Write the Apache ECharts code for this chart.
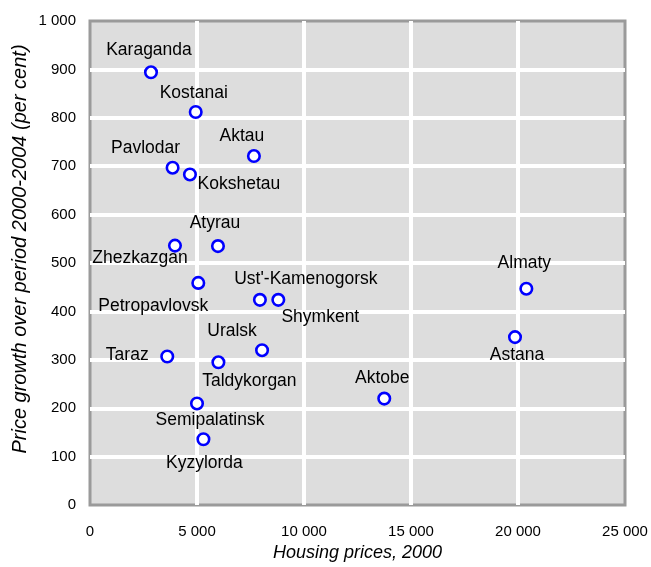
<!DOCTYPE html>
<html>
<head>
<meta charset="utf-8">
<script src="https://cdn.jsdelivr.net/npm/echarts@6/dist/echarts.min.js"></script>
<style>
html,body{margin:0;padding:0;background:#fff;}
#chart{width:651px;height:567px;}
</style>
</head>
<body>
<div id="chart"></div>
<script>
// ---- data ----
var cities = ["Karaganda","Kostanai","Aktau","Pavlodar","Kokshetau","Zhezkazgan","Atyrau","Petropavlovsk","Ust'-Kamenogorsk","Shymkent","Uralsk","Taraz","Taldykorgan","Semipalatinsk","Kyzylorda","Aktobe","Almaty","Astana"];
var housingPrices = [2850,4940,7660,3860,4670,3970,5980,5060,7940,8800,8040,3610,6000,5000,5300,13750,20390,19860];
var priceGrowth = [894,812,721,697,683,536,535,459,424,424,320,307,295,210,136,220,447,347];
var xTicks = [0,5000,10000,15000,20000,25000];
var yTicks = [0,100,200,300,400,500,600,700,800,900,1000];
var xTitle = "Housing prices, 2000";
var yTitle = "Price growth over period 2000-2004 (per cent)";

// ---- label placement (styling) ----
var labelOffsets = {
  "Karaganda":[-2,-22], "Kostanai":[-2,-19], "Aktau":[-12,-20], "Pavlodar":[-27,-20],
  "Kokshetau":[49,10], "Zhezkazgan":[-35,13], "Atyrau":[-3,-23], "Petropavlovsk":[-45,23],
  "Ust'-Kamenogorsk":[46,-21], "Shymkent":[42,17], "Uralsk":[-30,-19], "Taraz":[-40,-1],
  "Taldykorgan":[31,19], "Semipalatinsk":[13,17], "Kyzylorda":[1,24], "Aktobe":[-2,-20],
  "Almaty":[-2,-26], "Astana":[2,18]
};

function fmt(v){ return String(v).replace(/\B(?=(\d{3})+(?!\d))/g, ' '); }

var FONT = '"Liberation Sans", Arial, Helvetica, sans-serif';
var points = cities.map(function(c,i){
  return {
    name: c,
    value: [housingPrices[i], priceGrowth[i]],
    label: { offset: labelOffsets[c] }
  };
});

var chart = echarts.init(document.getElementById('chart'), null, {renderer:'canvas'});
chart.setOption({
  animation: false,
  backgroundColor: '#ffffff',
  grid: {
    left: 90, right: 26, top: 21, bottom: 55,
    show: true, backgroundColor: '#dddddd', borderColor: '#9a9a9a', borderWidth: 3
  },
  xAxis: {
    type: 'value', min: xTicks[0], max: xTicks[xTicks.length-1], interval: 5000,
    axisLine: {show:false}, axisTick: {show:false},
    axisLabel: {formatter: fmt, color:'#000', fontSize:15, fontFamily:FONT, margin:19, showMaxLabel:true},
    splitLine: {show:true, showMinLine:false, showMaxLine:false, lineStyle:{color:'#ffffff', width:4}},
    name: xTitle, nameLocation: 'middle', nameGap: 29,
    nameTextStyle: {fontStyle:'italic', fontSize:18, color:'#000', fontFamily:FONT}
  },
  yAxis: {
    type: 'value', min: yTicks[0], max: yTicks[yTicks.length-1], interval: 100,
    axisLine: {show:false}, axisTick: {show:false},
    axisLabel: {formatter: fmt, color:'#000', fontSize:15, fontFamily:FONT, margin:14},
    splitLine: {show:true, showMinLine:false, showMaxLine:false, lineStyle:{color:'#ffffff', width:4}}
  },
  graphic: [{
    type: 'text', x: 20, y: 249, rotation: Math.PI/2,
    style: {text: yTitle, font: 'italic 20px ' + FONT, fill:'#000', align:'center', verticalAlign:'middle'}
  }],
  series: [{
    type: 'scatter',
    data: points,
    symbol: 'circle', symbolSize: 11.5,
    itemStyle: {color:'#ffffff', borderColor:'#0000ff', borderWidth:2.6, opacity:1},
    label: {
      show: true, position: 'inside', formatter: '{b}',
      color:'#000', fontSize:17.5, fontFamily:FONT, align:'center', verticalAlign:'middle'
    },
    emphasis: {disabled:true}
  }]
});
</script>
</body>
</html>
